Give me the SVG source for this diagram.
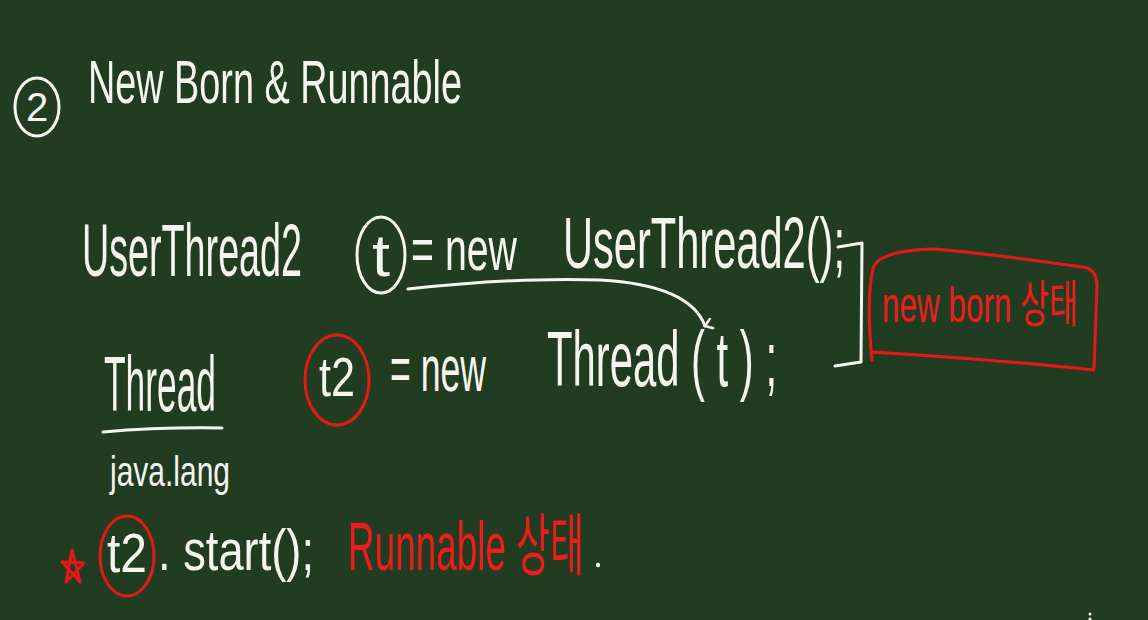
<svg xmlns="http://www.w3.org/2000/svg" width="1148" height="620" viewBox="0 0 1148 620">
<style>
.w{fill:#f5f5ef;font-family:"Liberation Sans Narrow","Liberation Sans",sans-serif;}
.r{fill:#ee1c1c;font-family:"Liberation Sans Narrow","Liberation Sans","Noto Sans CJK KR",sans-serif;}
.ws{fill:none;stroke:#f5f5ef;stroke-width:3;stroke-linecap:round;stroke-linejoin:round;}
.rs{fill:none;stroke:#e81818;stroke-width:3;stroke-linecap:round;stroke-linejoin:round;}
</style>
<defs>
<marker id="ah" viewBox="0 0 12 12" refX="6" refY="10" markerWidth="12" markerHeight="12" markerUnits="userSpaceOnUse" orient="auto">
<path d="M1,3 L6,10 L11,3" fill="none" stroke="#f5f5ef" stroke-width="2.5" stroke-linecap="round"/>
</marker>
</defs>
<rect width="1148" height="620" fill="#223c22"/>

<g id="title">
<ellipse class="ws" cx="37" cy="107" rx="22" ry="29"/>
<text class="w" x="37" y="121" font-size="40" text-anchor="middle">2</text>
<text class="w" x="88" y="103" font-size="62" textLength="374" lengthAdjust="spacingAndGlyphs">New Born  &amp;  Runnable</text>
</g>

<g id="line1">
<text class="w" x="82" y="276" font-size="74" textLength="220" lengthAdjust="spacingAndGlyphs">UserThread2</text>
<ellipse class="ws" cx="381" cy="255" rx="24" ry="38"/>
<text class="w" x="372" y="276" font-size="60" textLength="18" lengthAdjust="spacingAndGlyphs">t</text>
<text class="w" x="411" y="270" font-size="62" textLength="106" lengthAdjust="spacingAndGlyphs">= new</text>
<text class="w" x="563" y="268" font-size="72" textLength="282" lengthAdjust="spacingAndGlyphs">UserThread2();</text>
</g>

<g id="line2">
<text class="w" x="104" y="411" font-size="78" textLength="112" lengthAdjust="spacingAndGlyphs">Thread</text>
<path class="ws" d="M103,432 Q160,427 222,428"/>
<ellipse class="rs" cx="337" cy="380" rx="32" ry="45"/>
<text class="w" x="319" y="396" font-size="56" textLength="36" lengthAdjust="spacingAndGlyphs">t2</text>
<text class="w" x="390" y="391" font-size="64" textLength="96" lengthAdjust="spacingAndGlyphs">= new</text>
<text class="w" x="547" y="386" font-size="78" textLength="230" lengthAdjust="spacingAndGlyphs">Thread ( t ) ;</text>
<text class="w" x="110" y="486" font-size="42" textLength="120" lengthAdjust="spacingAndGlyphs">java.lang</text>
</g>

<g id="line3">
<path class="rs" d="M66,582 L72,550 L80,582 L62,562 L84,563 Z"/>
<ellipse class="rs" cx="127" cy="556" rx="27" ry="40"/>
<text class="w" x="107" y="572" font-size="56" textLength="40" lengthAdjust="spacingAndGlyphs">t2</text>
<text class="w" x="158" y="570" font-size="58" textLength="156" lengthAdjust="spacingAndGlyphs">. start();</text>
<text class="r" x="348" y="570" font-size="68" textLength="236" lengthAdjust="spacingAndGlyphs">Runnable 상태</text>
<circle cx="598" cy="565" r="2.2" fill="#f5f5ef"/>
</g>

<g id="state">
<path class="ws" d="M838,247 L862,243 L861,362 L835,366"/>
<path class="rs" d="M872,360 Q866,300 873,268 Q880,250 935,249 Q1000,255 1082,267 Q1096,268 1097,285 L1094,370 Q1000,360 872,352"/>
<text class="r" x="882" y="322" font-size="50" textLength="196" lengthAdjust="spacingAndGlyphs">new born 상태</text>
</g>

<g id="connectors">
<path class="ws" d="M408,289 Q520,277 600,280 Q690,285 705,326" marker-end="url(#ah)"/>
</g>

<g id="misc">
<circle cx="1090" cy="614" r="1.5" fill="#f5f5ef"/>
<circle cx="1090" cy="619" r="1.5" fill="#f5f5ef"/>
</g>
</svg>
